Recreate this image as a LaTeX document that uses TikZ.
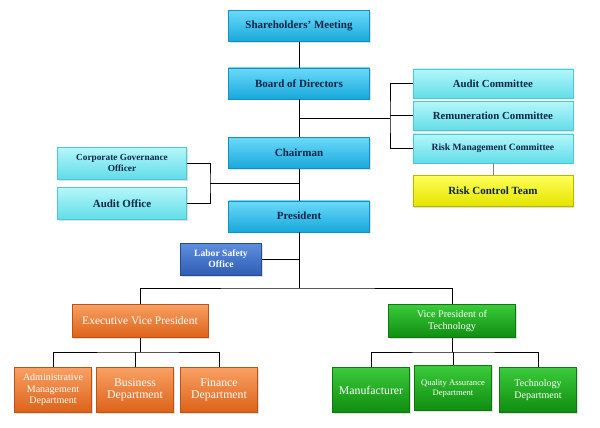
\documentclass[tikz,border=0pt]{standalone}
\usepackage{fontspec}
\setmainfont{Liberation Serif}
\usetikzlibrary{positioning,shadows}

\definecolor{skytop}{HTML}{6ADAF9}
\definecolor{skybot}{HTML}{18A8DC}
\definecolor{skyline}{HTML}{1590BE}
\definecolor{aquatop}{HTML}{B4F7FA}
\definecolor{aquabot}{HTML}{62DDE8}
\definecolor{aqualine}{HTML}{4CC7D3}
\definecolor{navytext}{HTML}{0B2545}
\definecolor{lemtop}{HTML}{FFFF5A}
\definecolor{lembot}{HTML}{E4E400}
\definecolor{royaltop}{HTML}{5E8FE0}
\definecolor{royalbot}{HTML}{2E5DB3}
\definecolor{ambertop}{HTML}{F9A063}
\definecolor{amberbot}{HTML}{DC6218}
\definecolor{leaftop}{HTML}{3ACB3A}
\definecolor{leafbot}{HTML}{108C10}

\begin{document}
\begin{tikzpicture}[
    x=1pt, y=1pt,
    node distance=10pt,
    every node/.style={shading=axis, align=center, inner sep=1pt,
        drop shadow={opacity=0.25, shadow xshift=1pt, shadow yshift=-1.5pt}},
    topbox/.style={top color=skytop, bottom color=skybot, draw=skyline,
        minimum width=141pt, minimum height=31pt, text=navytext,
        font=\fontsize{11}{12}\selectfont\bfseries},
    combox/.style={top color=aquatop, bottom color=aquabot, draw=aqualine,
        minimum width=160pt, minimum height=29pt, text=navytext,
        font=\fontsize{10.8}{12}\selectfont\bfseries},
    sidebox/.style={top color=aquatop, bottom color=aquabot, draw=aqualine,
        minimum width=129pt, minimum height=32pt, text=navytext,
        font=\fontsize{11}{12}\selectfont\bfseries},
    teambox/.style={top color=lemtop, bottom color=lembot, draw=lembot!80!black,
        minimum width=160pt, minimum height=31pt, text=navytext,
        font=\fontsize{11}{12}\selectfont\bfseries},
    safebox/.style={top color=royaltop, bottom color=royalbot, draw=royalbot!80!black,
        minimum width=81pt, minimum height=32pt, text=white,
        font=\fontsize{9.6}{11}\selectfont\bfseries},
    vpbox/.style={minimum height=33pt, text=white,
        font=\fontsize{11.5}{13}\selectfont},
    opsbox/.style={vpbox, top color=ambertop, bottom color=amberbot,
        draw=amberbot!85!black, minimum width=136pt},
    techbox/.style={vpbox, top color=leaftop, bottom color=leafbot,
        draw=leafbot!85!black, minimum width=127pt},
    dept/.style={minimum width=77pt, minimum height=45pt, text=white,
        font=\fontsize{10}{11.5}\selectfont},
    opsdept/.style={dept, top color=ambertop, bottom color=amberbot,
        draw=amberbot!85!black},
    techdept/.style={dept, top color=leaftop, bottom color=leafbot,
        draw=leafbot!85!black},
    link/.style={draw=black, line width=0.7pt}
]
\useasboundingbox (0,0) rectangle (600,-428);

% Main line
\node[topbox] (share) at (299,-26) {Shareholders' Meeting};
\node[topbox, below=26pt of share] (board) {Board of Directors};
\node[topbox, below=38pt of board] (chair) {Chairman};
\node[topbox, below=32pt of chair] (pres) {President};

% Committees
\node[combox, right=43pt of board] (audcom) {Audit Committee};
\node[combox, below=3pt of audcom] (remcom) {Remuneration Committee};
\node[combox, below=3pt of remcom, font=\fontsize{9.6}{11}\selectfont\bfseries] (riskcom) {Risk Management Committee};
\node[teambox, below=12pt of riskcom] (riskteam) {Risk Control Team};

% Chairman's offices
\node[sidebox, font=\fontsize{9.3}{11}\selectfont\bfseries] (cgo) at (122,-163) {Corporate Governance\\Officer};
\node[sidebox, below=8pt of cgo] (audoff) {Audit Office};

% Staff office
\node[safebox] (labor) at (221,-259) {Labor Safety\\Office};

% Vice presidents
\node[opsbox] (evp) at (140,-321) {Executive Vice President};
\node[techbox, font=\fontsize{10.2}{12}\selectfont] (vpt) at (452,-321) {Vice President of\\Technology};

% Departments
\node[opsdept] (admin) at (53,-390) {Administrative\\Management\\Department};
\node[opsdept, font=\fontsize{11.8}{12.5}\selectfont] (busdep) at (135,-390) {Business\\Department};
\node[opsdept, font=\fontsize{11.8}{12.5}\selectfont] (findep) at (219,-390) {Finance\\Department};
\node[techdept, font=\fontsize{11.8}{13}\selectfont] (manu) at (371,-390) {Manufacturer};
\node[techdept, font=\fontsize{8.6}{10}\selectfont] (qadep) at (453,-388) {Quality Assurance\\Department};
\node[techdept, font=\fontsize{10}{11.5}\selectfont] (techdep) at (538,-390) {Technology\\Department};

% Junctions
\coordinate (cj) at (390,-118);
\coordinate (lj) at (210,-183);
\coordinate (bus) at (299,-288);
\coordinate (ej) at (140,-352);
\coordinate (tj) at (452,-352);

% Connections
\draw[link] (share) -- (board);
\draw[link] (board) -- (chair);
\draw[link] (chair) -- (pres);

\draw[link] (board.south |- cj) -- (cj);
\draw[link] (audcom.west) -| (cj) |- (riskcom.west);
\draw[link] (cj |- remcom.west) -- (remcom.west);
\draw[draw=gray, line width=0.7pt] (riskcom) -- (riskteam);

\draw[link] (cgo.east) -| (lj) |- (audoff.east);
\draw[link] (lj) -- (chair.south |- lj);

\draw[link] (pres.south) -- (bus);
\draw[link] (labor.east) -- (labor.east -| bus);
\draw[link] (evp.north) |- (bus) -| (vpt.north);

\draw[link] (evp.south) -- (ej);
\draw[link] (admin.north) |- (ej) -| (findep.north);
\draw[link] (busdep.north) -- (busdep.north |- ej);

\draw[link] (vpt.south) -- (tj);
\draw[link] (manu.north) |- (tj) -| (techdep.north);
\draw[link] (qadep.north) -- (qadep.north |- tj);

\end{tikzpicture}
\end{document}
